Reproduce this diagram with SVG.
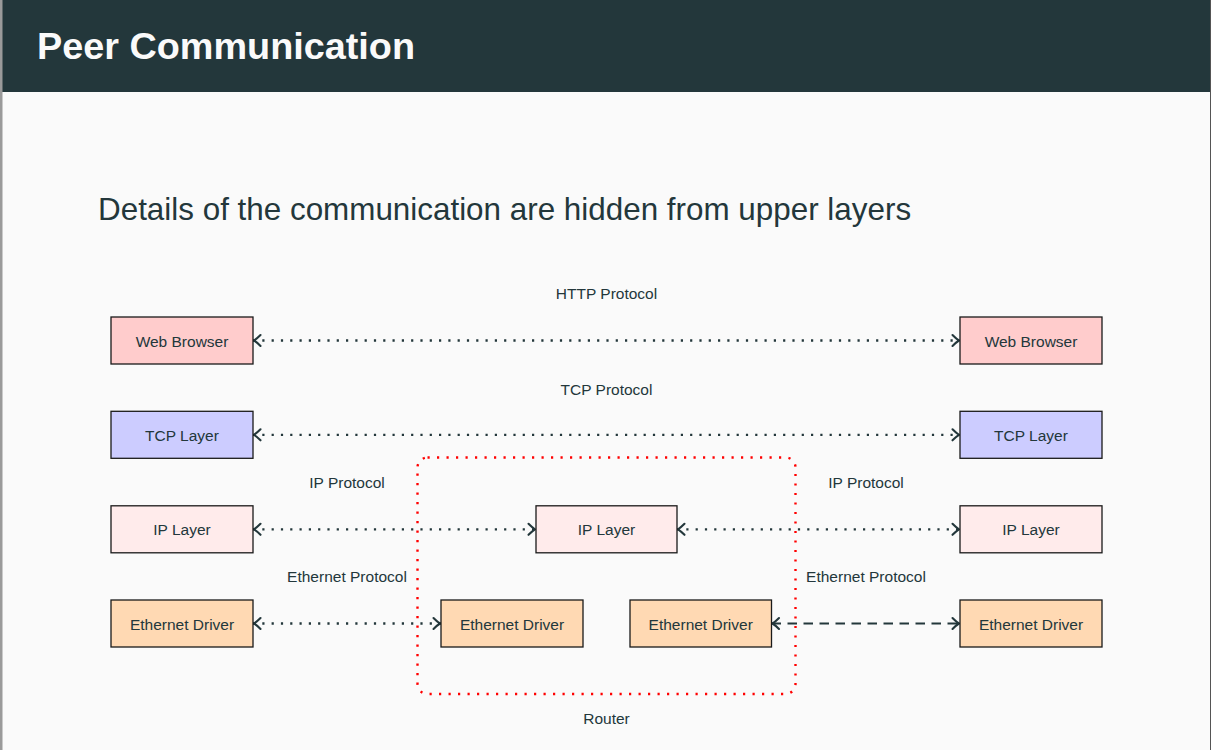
<svg xmlns="http://www.w3.org/2000/svg" width="1211" height="750" viewBox="0 0 1211 750">
<defs>
<style>
text{font-family:"Liberation Sans",Arial,sans-serif;fill:#23373b}
.title{font-size:37.8px;font-weight:bold;fill:#fafafa}
.sub{font-size:31.4px}
.lbl{font-size:15.5px;text-anchor:middle}
.box{stroke:#1a1a1a;stroke-width:1.3}
.web{fill:#ffcccc}
.tcp{fill:#ccccff}
.ip{fill:#ffebeb}
.eth{fill:#ffd9b3}
.dot{stroke:#23373b;stroke-width:2.3;stroke-dasharray:2.2 7.1;fill:none;marker-start:url(#tip);marker-end:url(#tip)}
.dash{stroke:#23373b;stroke-width:2.2;stroke-dasharray:9.5 6.5;fill:none;marker-start:url(#tip);marker-end:url(#tip)}
</style>
<marker id="tip" viewBox="-9 -8 11 16" refX="1" refY="0" markerWidth="11" markerHeight="16" orient="auto-start-reverse" markerUnits="userSpaceOnUse">
<path d="M-6.5,-5.5 Q-2.5,-1.5 0,0 Q-2.5,1.5 -6.5,5.5" fill="none" stroke="#23373b" stroke-width="2.1" stroke-linecap="round" stroke-linejoin="round"/>
</marker>
</defs>
<rect x="0" y="0" width="1211" height="750" fill="#fafafa"/>
<rect x="0" y="0" width="1211" height="92" fill="#23373b"/>
<rect x="0" y="0" width="2.5" height="750" fill="#9a9a9a"/>
<rect x="1210" y="0" width="1" height="750" fill="#555"/>
<text class="title" x="37" y="59.3">Peer Communication</text>
<text class="sub" x="98" y="219.5">Details of the communication are hidden from upper layers</text>

<g id="router">
<rect x="417.5" y="457.5" width="378" height="236.5" rx="10" fill="none" stroke="#ff0000" stroke-width="2.4" stroke-dasharray="2.2 7.3"/>
<text class="lbl" x="606.5" y="724">Router</text>
</g>

<g id="connectors">
<path class="dot" d="M253,340.5 H960"/>
<path class="dot" d="M253,434.8 H960"/>
<path class="dot" d="M253,529.3 H536"/>
<path class="dot" d="M677,529.3 H960"/>
<path class="dot" d="M253,623.5 H441"/>
<path class="dash" d="M771.5,623.5 H960"/>
<text class="lbl" x="606.5" y="298.5">HTTP Protocol</text>
<text class="lbl" x="606.5" y="394.5">TCP Protocol</text>
<text class="lbl" x="347" y="487.7">IP Protocol</text>
<text class="lbl" x="866" y="487.7">IP Protocol</text>
<text class="lbl" x="347" y="581.7">Ethernet Protocol</text>
<text class="lbl" x="866" y="581.7">Ethernet Protocol</text>
</g>

<g id="web-left"><rect class="box web" x="111" y="317" width="142" height="47"/><text class="lbl" x="182" y="346.5">Web Browser</text></g>
<g id="web-right"><rect class="box web" x="960" y="317" width="142" height="47"/><text class="lbl" x="1031" y="346.5">Web Browser</text></g>
<g id="tcp-left"><rect class="box tcp" x="111" y="411.3" width="142" height="47"/><text class="lbl" x="182" y="440.8">TCP Layer</text></g>
<g id="tcp-right"><rect class="box tcp" x="960" y="411.3" width="142" height="47"/><text class="lbl" x="1031" y="440.8">TCP Layer</text></g>
<g id="ip-left"><rect class="box ip" x="111" y="505.8" width="142" height="47"/><text class="lbl" x="182" y="535.3">IP Layer</text></g>
<g id="ip-mid"><rect class="box ip" x="536" y="505.8" width="141" height="47"/><text class="lbl" x="606.5" y="535.3">IP Layer</text></g>
<g id="ip-right"><rect class="box ip" x="960" y="505.8" width="142" height="47"/><text class="lbl" x="1031" y="535.3">IP Layer</text></g>
<g id="eth-left"><rect class="box eth" x="111" y="600" width="142" height="47"/><text class="lbl" x="182" y="629.5">Ethernet Driver</text></g>
<g id="eth-mid-left"><rect class="box eth" x="441" y="600" width="142" height="47"/><text class="lbl" x="512" y="629.5">Ethernet Driver</text></g>
<g id="eth-mid-right"><rect class="box eth" x="630" y="600" width="141.5" height="47"/><text class="lbl" x="700.7" y="629.5">Ethernet Driver</text></g>
<g id="eth-right"><rect class="box eth" x="960" y="600" width="142" height="47"/><text class="lbl" x="1031" y="629.5">Ethernet Driver</text></g>
</svg>
